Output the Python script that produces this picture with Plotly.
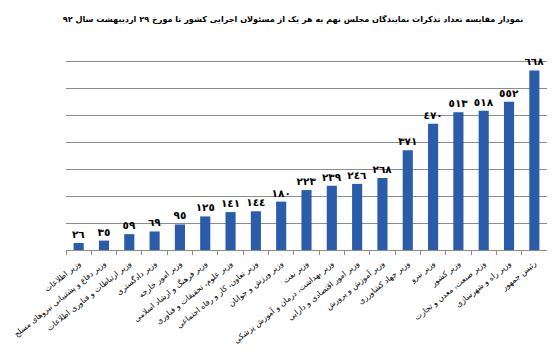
import plotly.graph_objects as go

categories = [
    "وزیر اطلاعات",
    "وزیر دفاع و پشتیبانی نیروهای مسلح",
    "وزیر ارتباطات و فناوری اطلاعات",
    "وزیر دادگستری",
    "وزیر امور خارجه",
    "وزیر فرهنگ و ارشاد اسلامی",
    "وزیر علوم، تحقیقات و فناوری",
    "وزیر تعاون، کار و رفاه اجتماعی",
    "وزیر ورزش و جوانان",
    "وزیر نفت",
    "وزیر بهداشت، درمان و آموزش پزشکی",
    "وزیر امور اقتصادی و دارایی",
    "وزیر آموزش و پرورش",
    "وزیر جهاد کشاورزی",
    "وزیر نیرو",
    "وزیر کشور",
    "وزیر صنعت، معدن و تجارت",
    "وزیر راه و شهرسازی",
    "رئیس جمهور",
]
values = [26, 35, 59, 69, 95, 125, 141, 144, 180, 223, 239, 246, 268, 371, 470, 513, 518, 552, 668]

title_text = "نمودار مقایسه تعداد تذکرات نمایندگان مجلس نهم به هر یک از مسئولان اجرایی کشور تا مورخ ۲۹ اردیبهشت سال ۹۲"

digits = str.maketrans("0123456789", "٠١٢٣٤٥٦٧٨٩")
value_labels = [str(v).translate(digits) for v in values]

fig = go.Figure(
    go.Bar(
        x=categories,
        y=values,
        text=value_labels,
        texttemplate="<b>%{text}</b>",
        textposition="outside",
        constraintext="none",
        textfont=dict(family="DejaVu Sans", size=10.5, color="#000000"),
        marker=dict(color="#2A5CAA", line=dict(width=0)),
        cliponaxis=False,
        width=0.4,
    )
)

# page body has an 8px margin, so the figure is sized and offset to compensate
fig.update_layout(
    width=547,
    height=347,
    margin=dict(l=58, r=8, t=27, b=105),
    paper_bgcolor="white",
    plot_bgcolor="white",
    showlegend=False,
    title=dict(
        text="<b>" + title_text + "</b>",
        x=0.472,
        xanchor="center",
        xref="paper",
        yref="container",
        y=1 - 11 / 347,
        yanchor="middle",
        font=dict(family="DejaVu Sans", size=8.1, color="#000000"),
    ),
    xaxis=dict(
        type="category",
        tickangle=-39,
        tickfont=dict(family="DejaVu Sans", size=7.8, color="#000000"),
        ticks="outside",
        tickson="boundaries",
        ticklen=4,
        tickcolor="#8c8c8c",
        ticklabelstandoff=5,
        ticklabeloverflow="allow",
        showline=True,
        linecolor="#8c8c8c",
        linewidth=1,
        showgrid=False,
        automargin=False,
    ),
    yaxis=dict(
        range=[0, 800],
        dtick=100,
        showticklabels=False,
        showgrid=True,
        gridcolor="#8c8c8c",
        gridwidth=1,
        zeroline=False,
        ticks="",
        automargin=False,
    ),
)

fig.write_html("out.html")
